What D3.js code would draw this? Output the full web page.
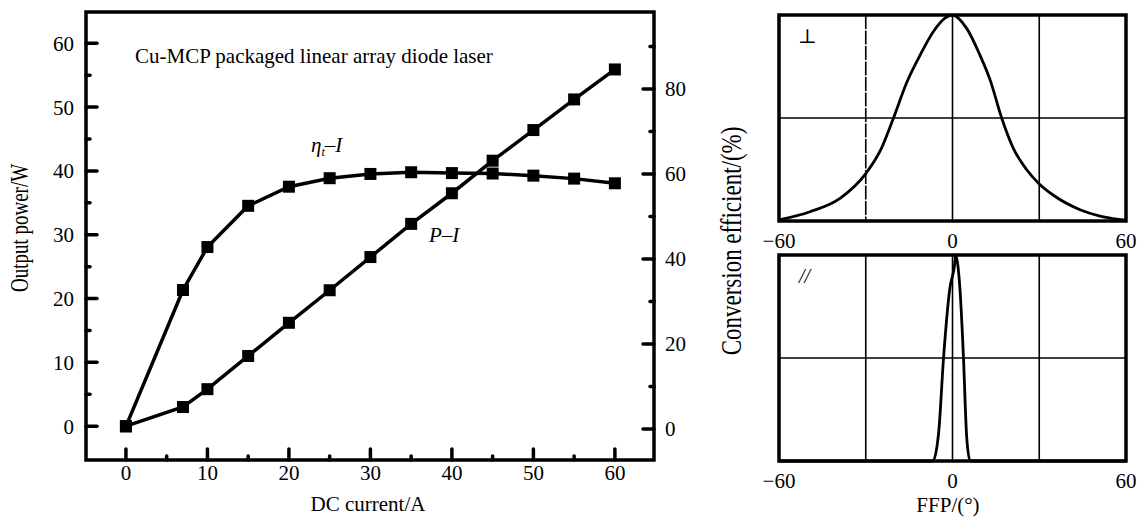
<!DOCTYPE html>
<html>
<head>
<meta charset="utf-8">
<script src="https://cdn.jsdelivr.net/npm/d3@7"></script>
<style>
  body { margin: 0; background: #fff; }
  svg { font-family: "Liberation Serif", "DejaVu Serif", serif; }
</style>
</head>
<body>
<svg id="chart" width="1147" height="519"></svg>
<script>
// --- data ---
var current = [0, 7, 10, 15, 20, 25, 30, 35, 40, 45, 50, 55, 60];
var powerW = [0, 3, 5.8, 11, 16.2, 21.3, 26.5, 31.7, 36.5, 41.6, 46.4, 51.2, 55.9];
var effPct = [0.6, 32.7, 42.8, 52.5, 57, 59, 60, 60.4, 60.2, 60.1, 59.6, 58.9, 57.8];
var leftTicks = [0, 10, 20, 30, 40, 50, 60];
var rightTicks = [0, 20, 40, 60, 80];
var xTicks = [0, 10, 20, 30, 40, 50, 60];

// far-field profiles (normalized)
var perpAngle = [-60, -49.3, -38.9, -30, -24.5, -20.4, -15.9, -11.2, -6.6, -2.6, -0.1, 4.9, 9.5, 13, 17, 21, 25.6, 30, 34.9, 44.1, 51, 59, 60];
var perpInt = [0.005, 0.045, 0.11, 0.23, 0.355, 0.5, 0.67, 0.805, 0.92, 0.985, 1.0, 0.935, 0.805, 0.685, 0.5, 0.354, 0.25, 0.18, 0.125, 0.055, 0.024, 0.005, 0.003];
var parAngle = [-60, -6.8, -4.8, -3.1, -1.0, 0.9, 1.0, 2.6, 3.8, 4.9, 6.1, 60];
var parInt = [0, 0, 0.136, 0.5, 0.83, 0.976, 1.0, 0.83, 0.5, 0.117, 0, 0];
var ffpTicks = [-60, 0, 60];
var ffpGrid = [-30, 0, 30];

var svg = d3.select('#chart');

// ================= left chart =================
var L = {left: 86, top: 12, right: 654, bottom: 460};
var x = d3.scaleLinear().domain([-4.9, 64.8]).range([L.left, L.right]);
var yL = d3.scaleLinear().domain([-5.3, 64.9]).range([L.bottom, L.top]);
var yR = d3.scaleLinear().domain([-7.3, 98.1]).range([L.bottom, L.top]);

var g = svg.append('g');

// inner ticks, major + minor
var majorLen = 11, minorLen = 4;
d3.range(0, 61, 5).forEach(function(v) {
  var len = v % 10 === 0 ? majorLen : minorLen;
  g.append('line').attr('x1', L.left).attr('x2', L.left + len)
    .attr('y1', yL(v)).attr('y2', yL(v))
    .attr('stroke', '#000').attr('stroke-width', 3.5).attr('stroke-linecap', 'round');
  g.append('line').attr('x1', x(v)).attr('x2', x(v))
    .attr('y1', L.bottom).attr('y2', L.bottom - len)
    .attr('stroke', '#000').attr('stroke-width', 3.5).attr('stroke-linecap', 'round');
});
d3.range(0, 91, 10).forEach(function(v) {
  var len = v % 20 === 0 ? majorLen : minorLen;
  g.append('line').attr('x1', L.right).attr('x2', L.right - len)
    .attr('y1', yR(v)).attr('y2', yR(v))
    .attr('stroke', '#000').attr('stroke-width', 3.5).attr('stroke-linecap', 'round');
});

g.append('rect').attr('x', L.left).attr('y', L.top)
  .attr('width', L.right - L.left).attr('height', L.bottom - L.top)
  .attr('fill', 'none').attr('stroke', '#000').attr('stroke-width', 3.5);

// tick labels
g.selectAll('.yl').data(leftTicks).enter().append('text')
  .attr('x', 74).attr('y', function(d) { return yL(d) + 7.5; })
  .attr('text-anchor', 'end').attr('font-size', 21).text(function(d) { return d; });
g.selectAll('.yr').data(rightTicks).enter().append('text')
  .attr('x', 665).attr('y', function(d) { return yR(d) + 7.5; })
  .attr('font-size', 21).text(function(d) { return d; });
g.selectAll('.xl').data(xTicks).enter().append('text')
  .attr('x', function(d) { return x(d); }).attr('y', 480)
  .attr('text-anchor', 'middle').attr('font-size', 21).text(function(d) { return d; });

g.append('text').attr('x', 368).attr('y', 511).attr('text-anchor', 'middle')
  .attr('font-size', 21).text('DC current/A');
g.append('text').attr('transform', 'translate(28,228) rotate(-90) scale(1,1.35)').attr('text-anchor', 'middle')
  .attr('font-size', 19).text('Output power/W');

g.append('text').attr('x', 135).attr('y', 63).attr('font-size', 21)
  .text('Cu-MCP packaged linear array diode laser');

var etaLbl = g.append('text').attr('x', 311).attr('y', 152).attr('font-size', 21).attr('font-style', 'italic');
etaLbl.append('tspan').text('η');
etaLbl.append('tspan').attr('font-size', 12).attr('dy', 4).text('t');
etaLbl.append('tspan').attr('dy', -4).text('–I');
g.append('text').attr('x', 429).attr('y', 242).attr('font-size', 21).attr('font-style', 'italic').text('P–I');

// series
var lineP = d3.line().x(function(d, i) { return x(current[i]); }).y(function(d) { return yL(d); });
var lineE = d3.line().x(function(d, i) { return x(current[i]); }).y(function(d) { return yR(d); });
g.append('path').attr('d', lineP(powerW)).attr('fill', 'none').attr('stroke', '#000').attr('stroke-width', 3.5);
g.append('path').attr('d', lineE(effPct)).attr('fill', 'none').attr('stroke', '#000').attr('stroke-width', 3.5);
var ms = 12;
g.selectAll('.mp').data(powerW).enter().append('rect')
  .attr('x', function(d, i) { return x(current[i]) - ms / 2; })
  .attr('y', function(d) { return yL(d) - ms / 2; })
  .attr('width', ms).attr('height', ms).attr('fill', '#000');
g.selectAll('.me').data(effPct).enter().append('rect')
  .attr('x', function(d, i) { return x(current[i]) - ms / 2; })
  .attr('y', function(d) { return yR(d) - ms / 2; })
  .attr('width', ms).attr('height', ms).attr('fill', '#000');

// ================= far-field panels =================
var fx = d3.scaleLinear().domain([-60, 60]).range([779, 1126]);

function panel(top, bottom, angles, vals, dashed) {
  var fy = d3.scaleLinear().domain([0, 1]).range([bottom, top]);
  var p = svg.append('g');
  ffpGrid.forEach(function(v) {
    p.append('line').attr('x1', fx(v)).attr('x2', fx(v)).attr('y1', top).attr('y2', bottom)
      .attr('stroke', '#000').attr('stroke-width', 1.6)
      .attr('stroke-dasharray', dashed && v === -30 ? '14,1.5' : null);
  });
  p.append('line').attr('x1', fx(-60)).attr('x2', fx(60)).attr('y1', fy(0.5)).attr('y2', fy(0.5))
    .attr('stroke', '#000').attr('stroke-width', 1.6);
  var ln = d3.line().x(function(d, i) { return fx(angles[i]); }).y(function(d) { return fy(d); })
    .curve(d3.curveMonotoneX);
  p.append('path').attr('d', ln(vals)).attr('fill', 'none').attr('stroke', '#000').attr('stroke-width', 2.8);
  p.append('rect').attr('x', fx(-60)).attr('y', top).attr('width', fx(60) - fx(-60)).attr('height', bottom - top)
    .attr('fill', 'none').attr('stroke', '#000').attr('stroke-width', 3.5);
  p.selectAll('.t').data(ffpTicks).enter().append('text')
    .attr('x', function(d) { return fx(d); }).attr('y', bottom + 27)
    .attr('text-anchor', 'middle').attr('font-size', 21)
    .text(function(d) { return d < 0 ? '−' + Math.abs(d) : d; });
  return p;
}

var top1 = panel(15, 221, perpAngle, perpInt, true);
top1.append('text').attr('x', 798).attr('y', 43).attr('font-size', 20).text('⊥');
var bot1 = panel(255, 461, parAngle, parInt, false);
bot1.append('text').attr('x', 799).attr('y', 283).attr('font-size', 20).attr('font-style', 'italic').text('//');

svg.append('text').attr('x', 948).attr('y', 512).attr('text-anchor', 'middle')
  .attr('font-size', 21).text('FFP/(°)');
svg.append('text').attr('transform', 'translate(741,241) rotate(-90) scale(1,1.3)').attr('text-anchor', 'middle')
  .attr('font-size', 23).text('Conversion efficient/(%)');
</script>
</body>
</html>
